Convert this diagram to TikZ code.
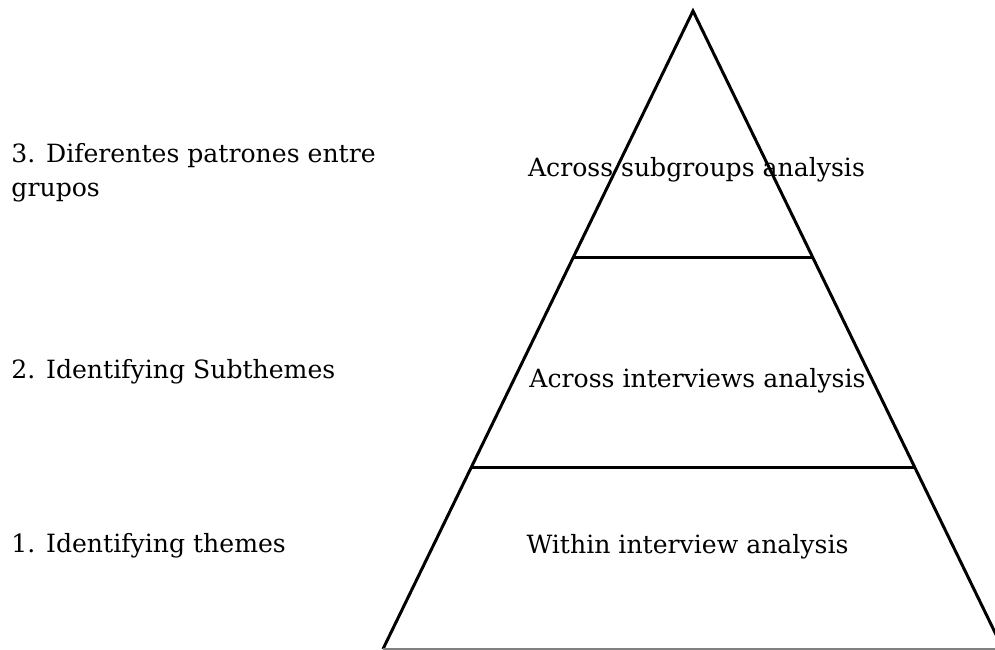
\documentclass[tikz,border=0pt]{standalone}
\usepackage{fontspec}
\setmainfont{DejaVu Serif}
\usetikzlibrary{calc}

\tikzset{
  level/.style={anchor=base west, align=left, inner sep=0pt},
  stage/.style={anchor=base}
}

\begin{document}
\begin{tikzpicture}[font=\fontsize{14.3}{19.6}\selectfont, line width=1.7pt]
  \useasboundingbox (0,0) rectangle (19.9,13);
  \clip (0,0) rectangle (19.9,13);

  \coordinate (apex) at (13.86,12.78);
  \coordinate (bl) at (7.66,0.02);
  \coordinate (br) at (20.06,0.02);

  % pyramid
  \draw (bl) -- (apex) -- (br);
  \draw[gray, line width=0.6pt] (bl) -- (br);
  \draw ($(apex)!0.387!(bl)$) -- ($(apex)!0.387!(br)$);
  \draw ($(apex)!0.715!(bl)$) -- ($(apex)!0.715!(br)$);

  \node[stage] (top) at (13.93,9.46) {Across subgroups analysis};
  \node[stage] (mid) at (13.95,5.24) {Across interviews analysis};
  \node[stage] (low) at (13.75,1.92) {Within interview analysis};

  \node[level] (l3) at (0.2,9.06) {3. Diferentes patrones entre\\grupos};
  \node[level] (l2) at (0.2,5.42) {2. Identifying Subthemes};
  \node[level] (l1) at (0.2,1.94) {1. Identifying themes};
\end{tikzpicture}
\end{document}
